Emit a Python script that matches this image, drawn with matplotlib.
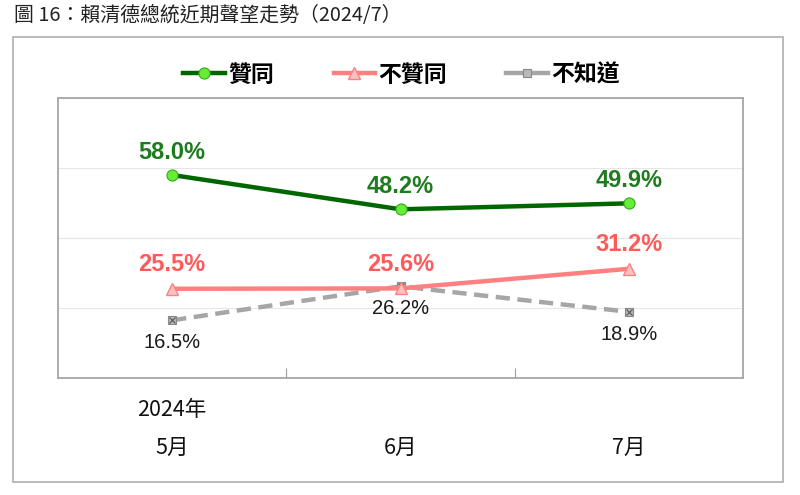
import numpy as np
import matplotlib.pyplot as plt
from matplotlib.patches import Rectangle
from matplotlib.lines import Line2D

plt.rcParams['font.family'] = ['Noto Sans CJK TC', 'DejaVu Sans']

months = ['5月', '6月', '7月']
year_label = '2024年'
approve = [58.0, 48.2, 49.9]
disapprove = [25.5, 25.6, 31.2]
unknown = [16.5, 26.2, 18.9]
title = '圖 16：賴清德總統近期聲望走勢（2024/7）'

green = '#006600'
green_lbl = '#1e7b1e'
pink = '#ff8080'
pink_lbl = '#ff5a5a'
gray = '#a6a6a6'

fig = plt.figure(figsize=(8, 4.95), dpi=100)
ax = fig.add_axes([58/800, 117/495, 685/800, 280/495])

x = np.arange(len(months))

# outer chart frame
fig.patches.append(Rectangle((13/800, 13/495), 770/800, 445/495, transform=fig.transFigure,
                             fill=False, edgecolor='#b4b4b4', linewidth=1.3, zorder=0))
fig.text(14/800, 1 - 16/495, title, fontsize=14.3, va='center', ha='left', color='#222222')

l1, = ax.plot(x, approve, color=green, lw=3.2, marker='o', ms=8, mfc='#66ee33', mec='#33aa22',
              mew=0.8, zorder=5, label='贊同')
l2, = ax.plot(x, disapprove, color=pink, lw=3.2, marker='^', ms=8, mfc='#ffc0c0', mec=pink,
              mew=1, zorder=4, label='不贊同')
ax.plot(x, unknown, color=gray, lw=3.2, ls=(0, (3.2, 1.7)), marker='s', ms=6, mfc='#b8b8b8',
        mec='#888888', mew=0.8, zorder=3)
ax.plot(x, unknown, ls='none', marker='x', ms=4.5, mec='#555555', mew=0.8, zorder=3)
# legend handle for the dashed series: short solid segments either side of the marker
l3 = Line2D([], [], color=gray, lw=3.2, marker='s', ms=6, mfc='#b8b8b8', mec='#888888',
            mew=0.8, label='不知道')

for xi, v in zip(x, approve):
    ax.annotate(f'{v:.1f}%', (xi, v), xytext=(0, 16.5), textcoords='offset points', ha='center',
                va='center', fontsize=17, fontweight='bold', color=green_lbl, family='Liberation Sans')
for xi, v in zip(x, disapprove):
    ax.annotate(f'{v:.1f}%', (xi, v), xytext=(0, 17.5), textcoords='offset points', ha='center',
                va='center', fontsize=17, fontweight='bold', color=pink_lbl, family='Liberation Sans')
for xi, v in zip(x, unknown):
    ax.annotate(f'{v:.1f}%', (xi, v), xytext=(0, -16), textcoords='offset points', ha='center',
                va='center', fontsize=14.5, color='#1a1a1a', family='Liberation Sans')

ax.set_xlim(-0.5, 2.5)
ax.set_ylim(0, 80)
ax.set_yticks([20, 40, 60, 80])
ax.yaxis.grid(True, color='#e6e6e6', lw=0.8)
ax.tick_params(axis='y', length=0, labelleft=False)
ax.set_xticks([0.5, 1.5])
ax.tick_params(axis='x', direction='in', length=7, color='#a0a0a0', labelbottom=False)
for s in ax.spines.values():
    s.set_color('#a6a6a6')
    s.set_linewidth(1.3)

trans = ax.get_xaxis_transform()
ax.text(x[0], -32/280, year_label, transform=trans, ha='center', va='center', fontsize=15.5,
        color='#111111')
for xi, m in zip(x, months):
    ax.text(xi, -70/280, m, transform=trans, ha='center', va='center', fontsize=15.5, color='#111111')

fig.legend(handles=[l1, l2, l3], loc='center', bbox_to_anchor=(0.502, 1 - 75/495), ncol=3,
           frameon=False, handlelength=1.8, handletextpad=0.15, columnspacing=2.6,
           prop={'size': 16.5, 'weight': 'bold'})

fig.savefig('out.png', dpi=100)
